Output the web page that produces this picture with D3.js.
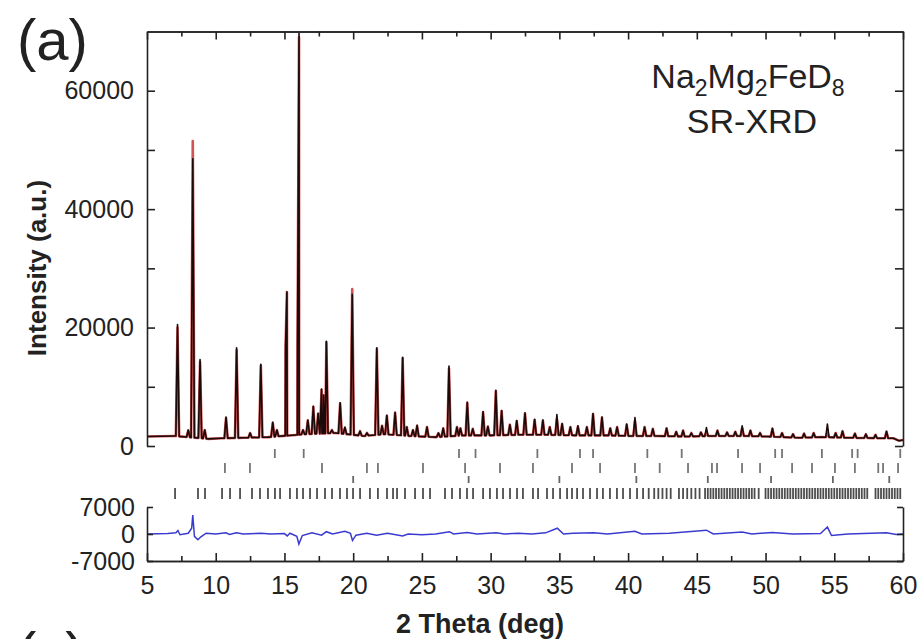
<!DOCTYPE html>
<html>
<head>
<meta charset="utf-8">
<script src="https://cdn.jsdelivr.net/npm/d3@7"></script>
<style>
  body { margin: 0; background: #fff; }
  text { font-family: "Liberation Sans", Arial, sans-serif; fill: #222; }
</style>
</head>
<body>
<div id="chart"></div>
<script>
// Observed / calculated peaks: [2theta, observed, calculated]
const peaks = [
  [7.22, 20500, 20000], [8.0, 2700, 2600], [8.33, 48500, 51500], [8.86, 14600, 14200],
  [9.2, 2700, 2700], [10.75, 4900, 4700], [11.52, 16600, 16200], [12.5, 2200, 2200],
  [13.28, 13800, 13600], [14.15, 4000, 3900], [14.45, 2700, 2700], [15.08, 16600, 16800],
  [15.18, 26000, 26000], [15.95, 17000, 17500], [16.06, 69700, 69000], [16.35, 2700, 2700],
  [16.7, 4400, 4300], [17.1, 6700, 6600], [17.45, 5500, 5500], [17.7, 9600, 9500],
  [17.85, 8600, 8500], [18.05, 17700, 17500], [18.45, 2700, 2700], [19.05, 7300, 7200],
  [19.4, 3200, 3000], [19.93, 25600, 26500], [20.5, 2500, 2500], [21.0, 2200, 2200],
  [21.72, 16600, 16400], [22.1, 3400, 3400], [22.45, 5200, 5100], [23.05, 5700, 5600],
  [23.6, 15000, 14800], [23.9, 3200, 3200], [24.35, 2700, 2700], [24.65, 3500, 3400],
  [25.37, 3200, 3200], [26.2, 2200, 2200], [26.55, 3000, 3000], [26.97, 13500, 13100],
  [27.55, 3200, 3200], [27.8, 3000, 3000], [28.3, 7400, 7300], [28.7, 2900, 2900],
  [29.45, 5800, 5700], [29.8, 3300, 3300], [30.38, 9400, 9300], [30.8, 6000, 5900],
  [31.4, 3600, 3600], [31.9, 4300, 4200], [32.5, 5600, 5500], [33.2, 4500, 4400],
  [33.8, 4400, 4300], [34.3, 3200, 3200], [34.82, 5300, 4500], [35.2, 3800, 3700],
  [35.8, 3200, 3200], [36.35, 3400, 3300], [37.0, 3200, 3200], [37.45, 5500, 5400],
  [38.1, 4900, 4800], [38.7, 3000, 3000], [39.2, 3200, 3200], [39.9, 3700, 3600],
  [40.5, 4800, 4200], [41.2, 3200, 3200], [41.8, 2900, 2900], [42.8, 3000, 3000],
  [43.5, 2400, 2400], [44.0, 2600, 2600], [44.6, 2200, 2200], [45.3, 2300, 2300],
  [45.7, 3100, 2300], [46.5, 2600, 2600], [47.2, 2300, 2300], [47.8, 2400, 2400],
  [48.3, 3400, 3000], [48.9, 2600, 2600], [49.6, 2200, 2200], [50.5, 3000, 2900],
  [51.2, 2200, 2200], [52.0, 2000, 2000], [52.8, 2100, 2100], [53.5, 2200, 2200],
  [54.5, 3700, 2200], [55.1, 2200, 2200], [55.6, 2500, 2500], [56.5, 2100, 2100],
  [57.3, 2000, 2000], [58.0, 1900, 1900], [58.8, 2500, 2400]
];

// Background level between peaks: [2theta, intensity]
const background = [
  [5, 1600], [7, 1700], [9.5, 1200], [10.4, 1300], [12, 1400], [13.8, 1500], [16.55, 2000],
  [18.7, 2200], [20.8, 1700], [22.3, 2000], [24.1, 1700], [26, 1500], [28.1, 1800],
  [30.1, 1800], [32.2, 1900], [34.1, 1900], [36.1, 1800], [38.4, 1800], [40.1, 1700],
  [42.1, 1700], [44.3, 1600], [46.1, 1700], [48.6, 1700], [50.1, 1600], [52.4, 1400],
  [54.1, 1500], [56.1, 1400], [58.4, 1300], [59.3, 1300], [59.7, 900], [60, 1000]
];

// Difference curve (obs - calc): [2theta, intensity]
const difference = [
  [5, 0], [6.5, 100], [7.1, 300], [7.25, 900], [7.4, -200], [8.0, 200], [8.25, 1500],
  [8.33, 4900], [8.45, -600], [8.7, -1500], [8.9, -800], [9.3, 200], [10, 0], [10.75, 300],
  [11, -100], [11.5, 300], [12, 0], [13.3, 200], [14, 0], [15, 100], [15.2, -500],
  [15.4, 200], [15.9, -600], [16.05, -2600], [16.3, -400], [17, 300], [17.7, -300],
  [18.05, 600], [18.5, 0], [19.4, 700], [19.8, 200], [19.95, -1700], [20.2, -300],
  [21, 200], [21.7, -300], [22.5, 200], [23.6, -500], [24, 0], [25, -200], [26, 0],
  [27, 600], [27.3, 0], [28.3, 400], [29, 0], [30.4, 300], [31, 0], [32, 200], [33, 0],
  [34, 300], [34.85, 1500], [35.3, 0], [36, 200], [37.5, 300], [38.5, 0], [40.5, 700],
  [41, 0], [43, 200], [45.7, 1000], [46.2, 0], [48.3, 500], [49, 0], [50.5, 400], [52, 0],
  [54, 100], [54.5, 1800], [54.8, -400], [56, 0], [58.8, 300], [59.5, -100], [60, 0]
];

// Bragg reflection positions (2theta) for the four tick rows
const phase1 = [14.3, 16.4, 27.7, 28.9, 33.4, 36.5, 37.45, 41.4, 43.9, 48.0, 50.7, 51.2, 54.1, 56.3, 56.7, 59.8];
const phase2 = [10.67, 12.49, 17.73, 21.0, 21.8, 25.08, 28.14, 30.68, 33.08, 35.92, 37.96, 40.5,
  42.3, 44.36, 46.1, 46.47, 48.29, 49.6, 51.93, 53.38, 55.05, 56.5, 58.2, 58.55, 59.64];
const phase3 = [20.0, 28.4, 35.0, 40.6, 45.8, 50.4, 54.9, 59.0];
const phase4 = [7.04, 8.71, 9.22, 10.46, 11.04, 11.77, 12.64, 13.22, 13.8, 14.31, 14.68, 15.4,
  15.91, 16.35, 16.86, 17.37, 17.95, 18.46, 19.04, 19.55, 19.99, 20.5, 21.22, 21.8, 22.46, 22.9,
  23.19, 23.77, 24.5, 25.08, 25.59, 26.68, 27.19, 27.77, 28.28, 28.72, 29.45, 29.95, 30.46, 30.9,
  31.41, 31.92, 32.35, 33.08, 33.45, 34.1, 34.54, 35.05, 35.56, 35.92, 36.29, 36.72, 37.23, 37.74,
  38.17, 38.68, 39.19, 39.63, 40.14, 40.65, 41.09, 41.5, 41.9, 42.2, 42.5, 42.8, 43.1, 43.7, 44.0,
  44.3, 44.6, 44.9, 45.2, 45.6, 45.8, 46.0, 46.2, 46.4, 46.6, 46.8, 47.0, 47.2, 47.4, 47.6, 47.8,
  48.0, 48.2, 48.4, 48.6, 48.8, 49.0, 49.2, 49.5, 50.0, 50.2, 50.4, 50.6, 50.8, 51.0, 51.2, 51.4,
  51.6, 51.8, 52.0, 52.2, 52.4, 52.6, 52.8, 53.0, 53.2, 53.4, 53.6, 53.8, 54.0, 54.2, 54.4, 54.6,
  54.8, 55.0, 55.2, 55.4, 55.6, 55.8, 56.0, 56.2, 56.4, 56.6, 56.8, 57.0, 57.2, 57.4, 58.0, 58.2,
  58.4, 58.6, 58.8, 59.0, 59.2, 59.4, 59.6, 59.8];

const intensityTicks = [0, 10000, 20000, 30000, 40000, 50000, 60000];
const intensityLabels = [0, 20000, 40000, 60000];
const diffTicks = [-7000, 0, 7000];
const thetaTicks = [5, 10, 15, 20, 25, 30, 35, 40, 45, 50, 55, 60];
const thetaMinor = [7.5, 12.5, 17.5, 22.5, 27.5, 32.5, 37.5, 42.5, 47.5, 52.5, 57.5];

const width = 921, height = 639;
const halfWidth = 0.12; // peak half base in degrees

const svg = d3.select("#chart")
  .append("svg")
  .attr("width", width)
  .attr("height", height);

const x = d3.scaleLinear().domain([5, 60]).range([147, 903]);
const yInt = d3.scaleLinear().domain([0, 70000]).range([446, 31.5]);
const yDiff = d3.scaleLinear().domain([-7000, 7000]).range([561, 507]);

// Build a profile from background + peak list
function profile(col) {
  const bg = d3.scaleLinear()
    .domain(background.map(d => d[0]))
    .range(background.map(d => d[1]));
  const pts = background
    .filter(b => !peaks.some(p => Math.abs(p[0] - b[0]) <= halfWidth))
    .map(b => [b[0], b[1]]);
  peaks.forEach(p => {
    pts.push([p[0] - halfWidth, bg(p[0] - halfWidth)]);
    pts.push([p[0], p[col]]);
    pts.push([p[0] + halfWidth, bg(p[0] + halfWidth)]);
  });
  return pts.sort((a, b) => a[0] - b[0]);
}

const line = d3.line()
  .x(d => x(d[0]))
  .y(d => yInt(d[1]));

// calculated (under)
svg.append("path")
  .attr("d", line(profile(2)))
  .attr("fill", "none")
  .attr("stroke", "#c41a1a")
  .attr("stroke-width", 2.6)
  .attr("stroke-opacity", 0.75)
  .attr("stroke-linejoin", "round");

// observed
svg.append("path")
  .attr("d", line(profile(1)))
  .attr("fill", "none")
  .attr("stroke", "#1a0a0a")
  .attr("stroke-width", 1.6)
  .attr("stroke-linejoin", "round");

// Bragg tick rows
const rows = [
  { data: phase1, y0: 449, y1: 458, color: "#666", op: 0.9 },
  { data: phase2, y0: 463, y1: 473, color: "#666", op: 0.9 },
  { data: phase3, y0: 476, y1: 483, color: "#555", op: 0.9 },
  { data: phase4, y0: 488, y1: 499, color: "#111", op: 0.75 }
];
rows.forEach(r => {
  svg.append("g")
    .selectAll("line")
    .data(r.data)
    .enter()
    .append("line")
    .attr("x1", d => x(d))
    .attr("x2", d => x(d))
    .attr("y1", r.y0)
    .attr("y2", r.y1)
    .attr("stroke", r.color)
    .attr("stroke-opacity", r.op)
    .attr("stroke-width", 1.8);
});

// difference curve
const diffLine = d3.line()
  .x(d => x(d[0]))
  .y(d => yDiff(d[1]));
svg.append("path")
  .attr("d", diffLine(difference))
  .attr("fill", "none")
  .attr("stroke", "#3a3ad0")
  .attr("stroke-width", 1.5);

// Axes
function styleAxis(g) {
  g.selectAll(".domain").attr("stroke", "#222").attr("stroke-width", 1.6);
  g.selectAll(".tick line").attr("stroke", "#222").attr("stroke-width", 1.6);
  g.selectAll(".tick text")
    .style("font-family", '"Liberation Sans", Arial, sans-serif')
    .style("font-size", "25px")
    .attr("fill", "#222");
}

// top panel left
svg.append("g")
  .attr("transform", "translate(147,0)")
  .call(d3.axisLeft(yInt).tickValues(intensityTicks).tickSize(-8).tickSizeOuter(0).tickPadding(13)
    .tickFormat(d => intensityLabels.includes(d) ? String(d) : ""))
  .call(styleAxis);

// top panel right
svg.append("g")
  .attr("transform", "translate(903,0)")
  .call(d3.axisRight(yInt).tickValues(intensityTicks).tickSize(-8).tickSizeOuter(0).tickFormat(""))
  .call(styleAxis);

// top frame
svg.append("g")
  .attr("transform", `translate(0,${yInt(70000)})`)
  .call(d3.axisTop(x).tickValues(thetaTicks).tickSize(-8).tickSizeOuter(0).tickFormat(""))
  .call(styleAxis);
svg.append("g")
  .attr("transform", `translate(0,${yInt(70000)})`)
  .call(d3.axisTop(x).tickValues(thetaMinor).tickSize(-5).tickSizeOuter(0).tickFormat(""))
  .call(styleAxis);

// difference panel left / right
svg.append("g")
  .attr("transform", "translate(147,0)")
  .call(d3.axisLeft(yDiff).tickValues(diffTicks).tickSize(-6).tickSizeOuter(0).tickPadding(12)
    .tickFormat(d => String(d)))
  .call(styleAxis);
svg.append("g")
  .attr("transform", "translate(903,0)")
  .call(d3.axisRight(yDiff).tickValues(diffTicks).tickSize(-6).tickSizeOuter(0).tickFormat(""))
  .call(styleAxis);

// bottom axis
svg.append("g")
  .attr("transform", `translate(0,${yDiff(-7000)})`)
  .call(d3.axisBottom(x).tickValues(thetaTicks).tickSize(-8).tickSizeOuter(0).tickPadding(15)
    .tickFormat(d => String(d)))
  .call(styleAxis);
svg.append("g")
  .attr("transform", `translate(0,${yDiff(-7000)})`)
  .call(d3.axisBottom(x).tickValues(thetaMinor).tickSize(-5).tickSizeOuter(0).tickFormat(""))
  .call(styleAxis);

// Axis titles
svg.append("text")
  .attr("transform", "translate(46,268) rotate(-90)")
  .attr("text-anchor", "middle")
  .style("font-size", "26px")
  .style("font-weight", "bold")
  .text("Intensity (a.u.)");

svg.append("text")
  .attr("x", 480)
  .attr("y", 633)
  .attr("text-anchor", "middle")
  .style("font-size", "27px")
  .style("font-weight", "bold")
  .text("2 Theta (deg)");

// Panel labels ((c) belongs to the next panel, cut by the image edge)
svg.append("text").attr("x", 17).attr("y", 60).style("font-size", "58px").text("(a)");
svg.append("text").attr("x", 17).attr("y", 673).style("font-size", "58px").text("(c)");

// Sample annotation
const formula = svg.append("text")
  .attr("x", 748)
  .attr("y", 88)
  .attr("text-anchor", "middle")
  .style("font-size", "34px");
[["Na", false], ["2", true], ["Mg", false], ["2", true], ["FeD", false], ["8", true]].forEach(([t, sub], i, arr) => {
  const prevSub = i > 0 && arr[i - 1][1];
  formula.append("tspan")
    .attr("dy", sub ? 8 : (prevSub ? -8 : 0))
    .style("font-size", sub ? "23px" : "34px")
    .text(t);
});

svg.append("text")
  .attr("x", 752)
  .attr("y", 133)
  .attr("text-anchor", "middle")
  .style("font-size", "34px")
  .text("SR-XRD");
</script>
</body>
</html>
